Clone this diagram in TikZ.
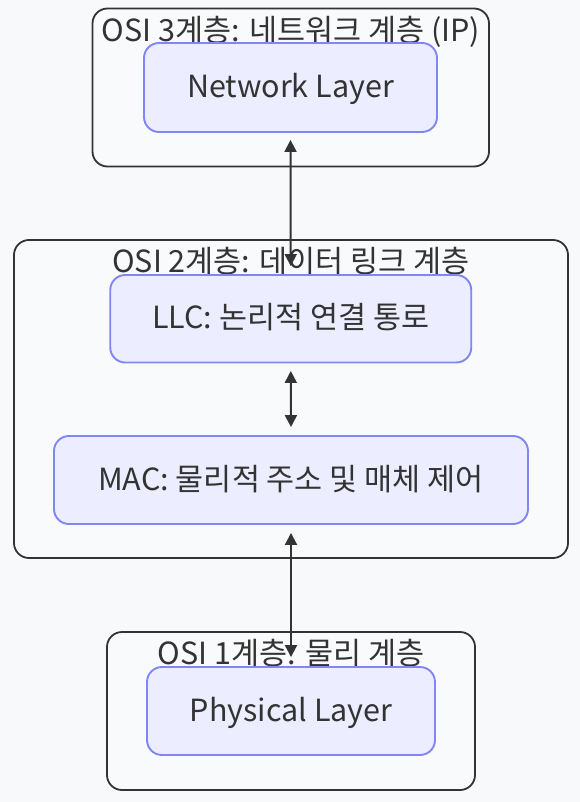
\documentclass[tikz,border=0pt]{standalone}
\usepackage{fontspec}
\setmainfont{Noto Sans CJK KR}
\usetikzlibrary{arrows.meta}
\definecolor{bg}{HTML}{F8F9FB}
\definecolor{ink}{HTML}{333333}
\definecolor{nodefill}{HTML}{ECEEFF}
\definecolor{nodeline}{HTML}{7F86F5}
\definecolor{clfill}{HTML}{F9FAFC}
\begin{document}
\begin{tikzpicture}[x=1pt,y=-1pt,
  cluster/.style={draw=ink, fill=clfill, line width=1.8pt, rounded corners=15pt, inner sep=0pt},
  clabel/.style={text=ink, font=\fontsize{30.5}{34}\selectfont, inner sep=0pt, text height=25pt, text depth=5pt},
  layer/.style={draw=nodeline, fill=nodefill, line width=1.9pt, rounded corners=15pt, text=ink, font=\fontsize{30.5}{34}\selectfont, inner sep=0pt, text height=25pt, text depth=5pt},
  conn/.style={draw=ink, line width=2pt, {Triangle[length=12pt,width=12pt]}-{Triangle[length=12pt,width=12pt]}}
]
\useasboundingbox[fill=bg] (0,0) rectangle (580,802);
% clusters
\node[cluster, minimum width=396.5pt, minimum height=158pt] (c3) at (290.75,87.5) {};
\node[cluster, minimum width=554pt, minimum height=318pt] (c2) at (291,399) {};
\node[cluster, minimum width=368pt, minimum height=158pt] (c1) at (291,711) {};
\node[clabel] (c3l) at (291,31.7) {OSI 3계층: 네트워크 계층 (IP)};
\node[clabel] (c2l) at (291,262.7) {OSI 2계층: 데이터 링크 계층};
\node[clabel] (c1l) at (291,654) {OSI 1계층: 물리 계층};
% nodes
\node[layer, minimum width=293pt, minimum height=89pt] (net) at (290.5,87.5) {Network Layer};
\node[layer, minimum width=361pt, minimum height=87.5pt] (llc) at (290.75,318.75) {LLC: 논리적 연결 통로};
\node[layer, minimum width=474pt, minimum height=88pt] (mac) at (291,480) {MAC: 물리적 주소 및 매체 제어};
\node[layer, minimum width=288pt, minimum height=88pt] (phy) at (291,711) {Physical Layer};
% connectors
\draw[conn, shorten <=7pt, shorten >=8pt] (net.south) -- (llc.north);
\draw[conn, shorten <=7.5pt, shorten >=8pt] (llc.south) -- (mac.north);
\draw[conn, shorten <=8pt, shorten >=9pt] (mac.south) -- (phy.north);
\end{tikzpicture}
\end{document}
